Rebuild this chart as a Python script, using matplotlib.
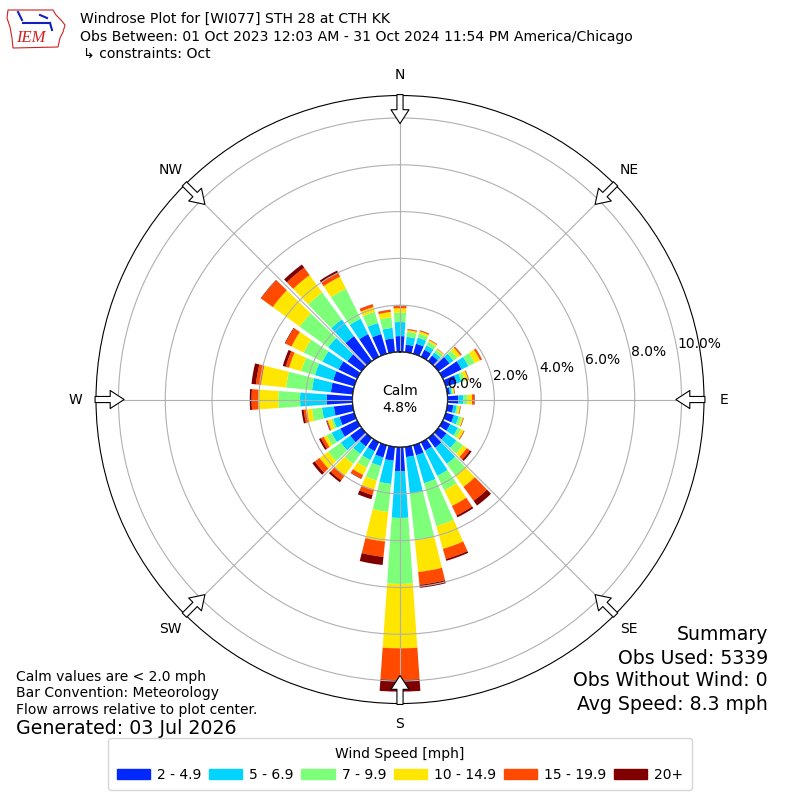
import numpy as np
import matplotlib
matplotlib.use('Agg')
import matplotlib.pyplot as plt
from matplotlib.patches import Patch, Polygon
from matplotlib.lines import Line2D

# direction bins (deg, meteorological, from N clockwise)
directions = np.arange(0, 360, 10)
speed_labels = ['2 - 4.9', '5 - 6.9', '7 - 9.9', '10 - 14.9', '15 - 19.9', '20+']
speed_colors = ['#0028ff', '#00d4ff', '#7dff7a', '#ffe600', '#ff4a00', '#800000']

# frequency [%] per direction bin, one list per speed class
spd_2_5 = [0.68, 0.33, 0.45, 0.34, 0.30, 0.59, 0.90, 0.50, 0.12, 0.46, 0.26, 0.37,
           0.36, 0.43, 0.52, 0.40, 0.45, 0.44, 1.03, 0.60, 0.55, 0.43, 0.45, 0.60,
           0.81, 0.66, 0.81, 1.10, 0.94, 0.94, 0.89, 0.75, 1.32, 1.08, 0.88, 0.60]
spd_5_7 = [0.60, 0.33, 0.27, 0.20, 0.16, 0.20, 0.32, 0.20, 0.08, 0.22, 0.14, 0.21,
           0.36, 0.52, 0.85, 1.20, 1.24, 1.57, 2.00, 1.00, 0.38, 0.42, 0.40, 0.50,
           0.41, 0.27, 0.51, 1.14, 0.81, 0.81, 0.77, 1.01, 0.88, 0.73, 0.49, 0.45]
spd_7_10 = [0.40, 0.22, 0.18, 0.17, 0.14, 0.20, 0.30, 0.15, 0.05, 0.18, 0.07, 0.13,
            0.15, 0.35, 0.63, 0.69, 1.91, 2.01, 2.82, 1.20, 0.64, 0.36, 0.52, 0.66,
            0.24, 0.10, 0.43, 0.93, 1.11, 0.61, 0.89, 1.51, 1.42, 1.43, 0.50, 0.45]
spd_10_15 = [0.19, 0.07, 0.10, 0.08, 0.05, 0.17, 0.26, 0.15, 0.05, 0.19, 0.08, 0.07,
             0.13, 0.20, 0.58, 0.74, 1.01, 1.36, 2.75, 1.27, 0.40, 0.35, 0.61, 0.46,
             0.14, 0.15, 0.22, 0.86, 1.08, 0.54, 0.58, 1.42, 0.92, 0.57, 0.21, 0.23]
spd_15_20 = [0.09, 0.04, 0.04, 0.02, 0.02, 0.06, 0.08, 0.03, 0.02, 0.09, 0.02, 0.02,
             0.03, 0.16, 0.74, 0.45, 0.45, 0.55, 1.35, 0.66, 0.25, 0.17, 0.26, 0.25,
             0.13, 0.04, 0.14, 0.28, 0.22, 0.15, 0.29, 0.62, 0.39, 0.19, 0.12, 0.09]
spd_20p = [0.02, 0.01, 0.01, 0.01, 0.00, 0.01, 0.01, 0.01, 0.01, 0.02, 0.01, 0.01,
           0.01, 0.09, 0.25, 0.09, 0.08, 0.13, 0.50, 0.35, 0.18, 0.02, 0.10, 0.13,
           0.09, 0.03, 0.09, 0.08, 0.19, 0.13, 0.03, 0.02, 0.17, 0.10, 0.01, 0.01]

calm_pct = 4.8
compass = ['N', 'NE', 'E', 'SE', 'S', 'SW', 'W', 'NW']

fig = plt.figure(figsize=(8, 8), dpi=100)
ax = fig.add_axes([0.12, 0.1206, 0.76, 0.76], projection='polar')
ax.set_theta_zero_location('N')
ax.set_theta_direction(-1)

theta = np.radians(directions)
width = np.radians(8)
bottom = np.zeros(len(directions))
for vals, color, label in zip([spd_2_5, spd_5_7, spd_7_10, spd_10_15, spd_15_20, spd_20p],
                              speed_colors, speed_labels):
    vals = np.array(vals)
    ax.bar(theta, vals, width=width, bottom=bottom, color=color, linewidth=0,
           label=label, zorder=1)
    bottom = bottom + vals

ax.set_rorigin(-2.03)
ax.set_ylim(0, 10.96)
ax.set_axisbelow(False)
ax.set_yticks([0, 2, 4, 6, 8, 10])
ax.set_yticklabels(['%.1f%%' % v for v in [0, 2, 4, 6, 8, 10]], fontsize=10)
ax.set_rlabel_position(80)
ax.set_xticks(np.radians(np.arange(0, 360, 45)))
ax.set_xticklabels([])
ax.grid(True, color='#b0b0b0', lw=0.8)

# calm circle
circ = np.linspace(0, 2 * np.pi, 361)
ax.plot(circ, np.zeros_like(circ), color='k', lw=1, zorder=5)
ax.text(0.5, 0.5, 'Calm\n%.1f%%' % calm_pct, transform=ax.transAxes,
        ha='center', va='center', fontsize=10)

# compass labels and flow arrows
for i, name in enumerate(compass):
    t = np.radians(i * 45)
    ax.text(t, 11.83, name, ha='center', va='center', fontsize=10, clip_on=False)
    ax.annotate('', xy=(t, 9.76), xytext=(t, 11.0), annotation_clip=False,
                arrowprops=dict(arrowstyle='simple,head_length=0.5,head_width=0.65,tail_width=0.22',
                                fc='white', ec='black', lw=0.8, mutation_scale=20,
                                shrinkA=0, shrinkB=0), zorder=6)

# header
fig.text(0.1, 1 - 19 / 800, 'Windrose Plot for [WI077] STH 28 at CTH KK', fontsize=10.1, va='center')
fig.text(0.1, 1 - 37 / 800,
         'Obs Between: 01 Oct 2023 12:03 AM - 31 Oct 2024 11:54 PM America/Chicago',
         fontsize=10.1, va='center')
fig.text(83 / 800, 1 - 54 / 800, '\u21b3 constraints: Oct', fontsize=10.1, va='center')

# IEM logo (rough)
def px(x, y):
    return (x / 800, 1 - y / 800)

iowa = [(8, 10), (53, 10), (56, 15), (61, 20), (65, 25), (63, 32), (60, 38), (58, 47),
        (13, 48), (12, 38), (10, 27), (7, 18)]
fig.add_artist(Polygon([px(*p) for p in iowa], closed=True, fill=False,
                       ec='#d02020', lw=0.8, transform=fig.transFigure))
for seg in [[(18, 12), (22, 20)], [(23, 23), (50, 23)], [(40, 15), (47, 18)], [(50, 23), (52, 30)]]:
    xs, ys = zip(*[px(*p) for p in seg])
    fig.add_artist(Line2D(xs, ys, color='#1020c0', lw=1.5, transform=fig.transFigure))
fig.text(31 / 800, 1 - 38 / 800, 'IEM', color='#d02020', fontsize=12, style='italic',
         family='Liberation Serif', ha='center', va='center')

# footer notes
fig.text(0.02, 1 - 677 / 800, 'Calm values are < 2.0 mph', fontsize=10, va='center')
fig.text(0.02, 1 - 693 / 800, 'Bar Convention: Meteorology', fontsize=10, va='center')
fig.text(0.02, 1 - 710 / 800, 'Flow arrows relative to plot center.', fontsize=10, va='center')
fig.text(0.02, 1 - 729 / 800, 'Generated: 03 Jul 2026', fontsize=13.7, va='center')

summary = ['Summary', 'Obs Used: 5339', 'Obs Without Wind: 0', 'Avg Speed: 8.3 mph']
for line, y in zip(summary, [635, 658, 681, 705]):
    fig.text(0.96, 1 - y / 800, line, fontsize=13.6, ha='right', va='center')

handles = [Patch(color=c, label=l) for c, l in zip(speed_colors, speed_labels)]
leg = fig.legend(handles=handles, loc='lower center', bbox_to_anchor=(0.5, 0.004),
                 ncol=6, title='Wind Speed [mph]', fontsize=10, title_fontsize=10,
                 handlelength=2.4, handletextpad=0.5, columnspacing=0.55,
                 borderpad=0.6, frameon=True, fancybox=True)
leg.get_frame().set_edgecolor('#cccccc')

fig.savefig('out.png', dpi=100)
